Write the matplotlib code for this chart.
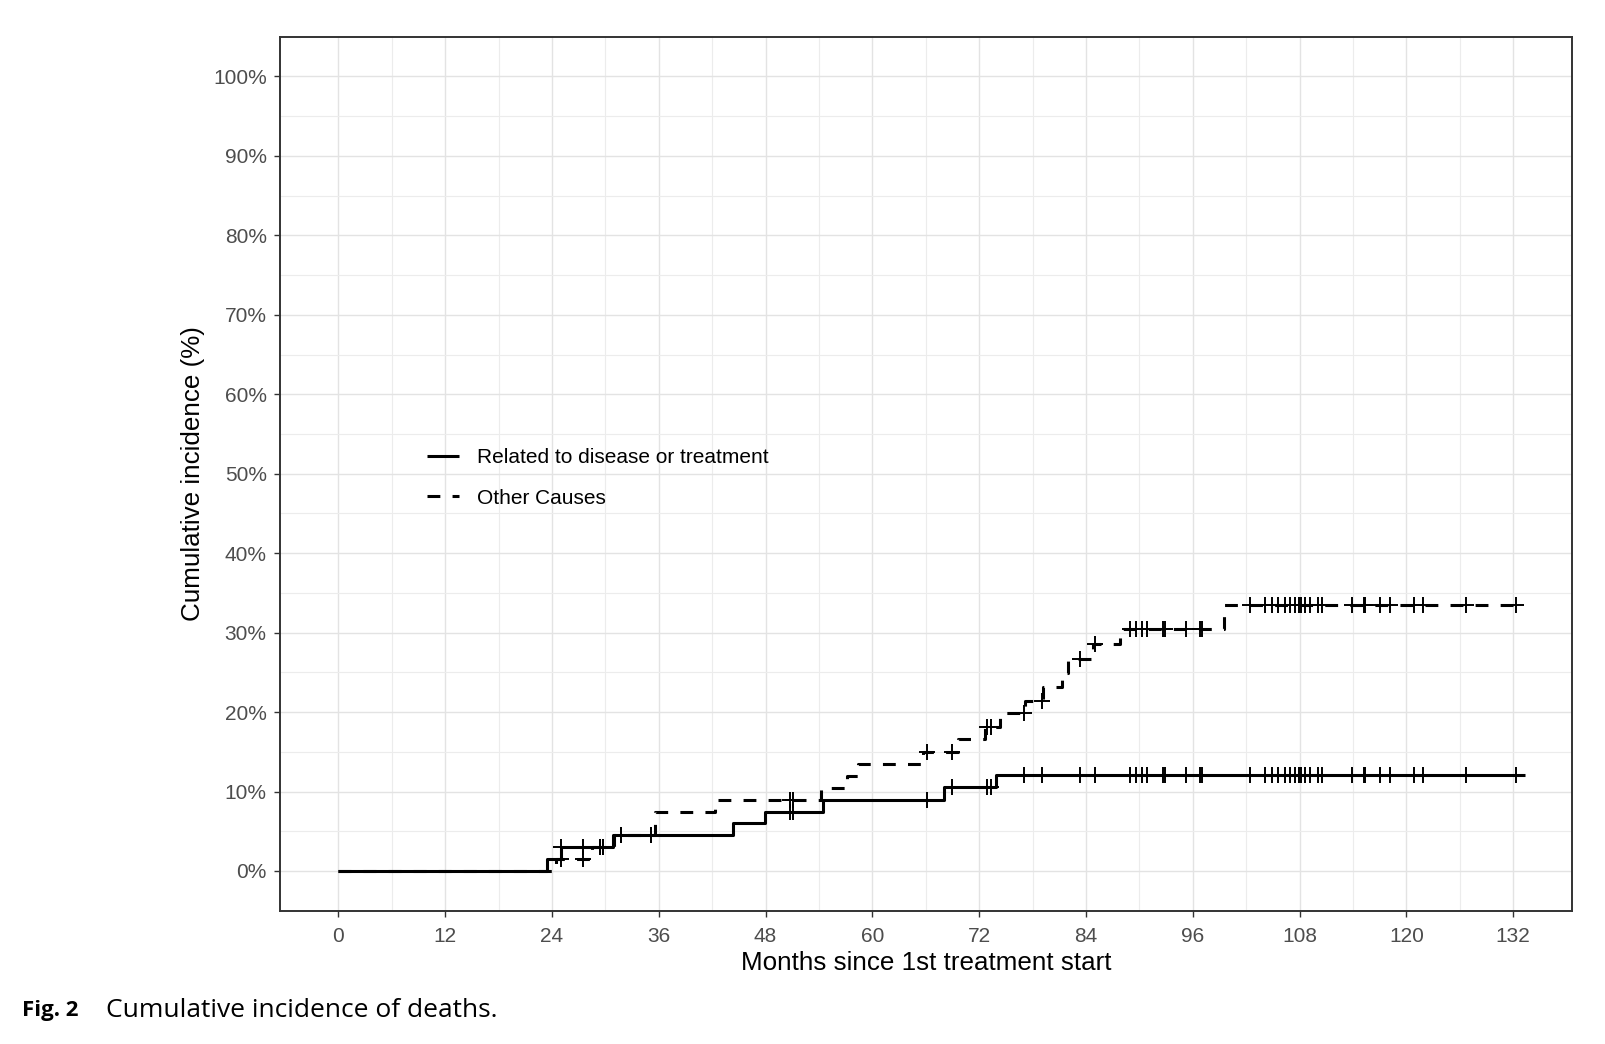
import numpy as np
import matplotlib.pyplot as plt

# Step curves (months, cumulative incidence in %)
related_months = [0, 23.4, 25.0, 30.9, 44.3, 47.9, 54.5, 68.1, 73.9, 133.3]
related_pct = [0, 1.5, 3.0, 4.5, 6.0, 7.4, 8.9, 10.6, 12.1, 12.1]

other_months = [0, 24.5, 28.5, 31.0, 35.6, 42.3, 54.2, 57.1, 58.4, 65.7, 69.6,
                72.7, 74.3, 77.2, 79.2, 81.3, 82.0, 84.8, 87.8, 99.5, 133.3]
other_pct = [0, 1.5, 3.0, 4.5, 7.4, 8.9, 10.5, 12.0, 13.4, 15.0, 16.6,
             18.1, 19.9, 21.4, 23.1, 24.9, 26.7, 28.6, 30.5, 33.5, 33.5]

# Censoring times (shared by both curves)
censor_months = [25.0, 27.5, 29.4, 29.7, 31.8, 35.1, 50.7, 51.1, 66.1, 68.9,
                 72.9, 73.3, 77.0, 79.1, 83.3, 85.0, 89.0, 89.6, 90.3, 90.8,
                 92.7, 92.9, 95.2, 96.8, 97.0, 102.4, 104.1, 104.9, 105.6,
                 106.4, 106.9, 107.5, 107.9, 108.2, 108.6, 109.2, 110.1, 110.5,
                 113.9, 115.2, 115.4, 117.0, 118.2, 120.8, 121.9, 126.7, 132.3]

x_ticks = list(range(0, 133, 12))
y_ticks = list(range(0, 101, 10))
y_tick_labels = [f"{v}%" for v in y_ticks]

plt.rcParams['font.family'] = ['Liberation Sans', 'DejaVu Sans']

fig = plt.figure(figsize=(16.06, 10.44), dpi=100)
ax = fig.add_axes([0.1741, 0.1277, 0.8047, 0.8371])


def step_value(months, pct, t):
    idx = np.searchsorted(months, t, side='right') - 1
    return np.asarray(pct)[idx]


# curves
ax.plot(related_months, related_pct, drawstyle='steps-post', color='black',
        lw=2.2, solid_capstyle='butt', label='Related to disease or treatment')
ax.plot(other_months, other_pct, drawstyle='steps-post', color='black',
        lw=2.2, linestyle=(0, (4.2, 4)), dash_capstyle='butt', label='Other Causes')

# censor marks
c = np.array(censor_months)
ax.plot(c, step_value(related_months, related_pct, c), ls='none', marker='+',
        ms=12, mew=1.4, color='black')
ax.plot(c, step_value(other_months, other_pct, c), ls='none', marker='+',
        ms=12, mew=1.4, color='black')

# axes
ax.set_xlim(-6.6, 138.6)
ax.set_ylim(-5, 105)
ax.set_xticks(x_ticks)
ax.set_xticks(np.arange(6, 133, 12), minor=True)
ax.set_yticks(y_ticks)
ax.set_yticklabels(y_tick_labels)
ax.set_yticks(np.arange(5, 101, 10), minor=True)
ax.grid(which='major', color='#E3E3E3', lw=1.0)
ax.grid(which='minor', color='#ECECEC', lw=0.8)
ax.set_axisbelow(True)
ax.tick_params(which='major', length=4.3, width=1.0, color='#333333',
               labelcolor='#4D4D4D', labelsize=15)
ax.tick_params(axis='x', pad=7.5)
ax.tick_params(axis='y', pad=5)
ax.tick_params(which='minor', length=0)
for s in ax.spines.values():
    s.set_color('#333333')
    s.set_linewidth(1.4)

ax.set_xlabel('Months since 1st treatment start', fontsize=18.7, va='center')
ax.xaxis.set_label_coords(0.5, -0.0596)
ax.set_ylabel('Cumulative incidence (%)', fontsize=18.7, va='center')
ax.yaxis.set_label_coords(-0.067, 0.5)

# legend
ax.legend(loc='upper left', bbox_to_anchor=(0.1137, 0.5296), frameon=False,
          fontsize=15, handlelength=1.55, handletextpad=0.88, labelspacing=1.05,
          borderpad=0, borderaxespad=0)

# caption
fig.text(0.0135, 0.0325, 'Fig. 2', fontsize=16, fontweight='bold',
         family=['Open Sans', 'DejaVu Sans'], va='center')
fig.text(0.066, 0.0325, 'Cumulative incidence of deaths.', fontsize=19,
         family=['Open Sans', 'DejaVu Sans'], va='center')

fig.savefig('out.png', dpi=100)
